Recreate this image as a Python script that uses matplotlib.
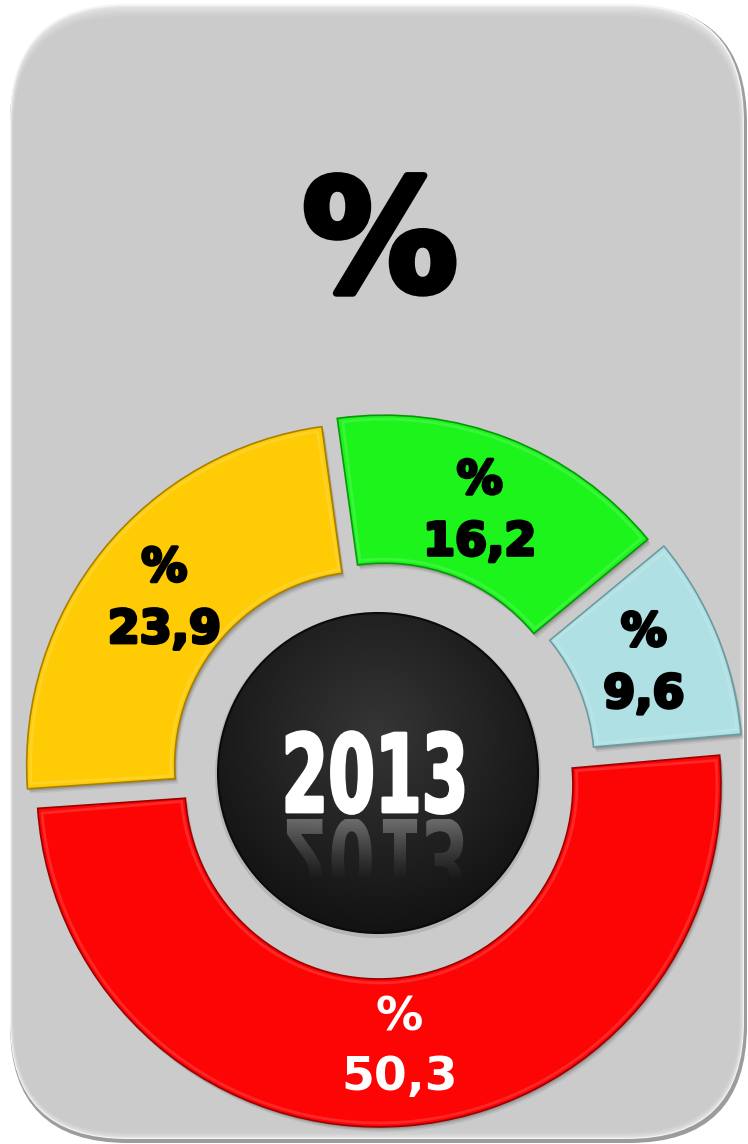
import numpy as np
import matplotlib
matplotlib.use("Agg")
import matplotlib.pyplot as plt
import matplotlib.patches as mp
import matplotlib.patheffects as pe
from matplotlib.colors import to_rgb
from matplotlib.font_manager import FontProperties
from matplotlib.textpath import TextPath
from matplotlib.transforms import Affine2D

W, H = 748, 1144

# shares in %, clockwise from the bottom wedge
shares = [50.3, 23.9, 16.2, 9.6]
colors = ["#fd0505", "#fecb04", "#1cf41c", "#aee0e4"]
edge_cols = ["#9a0000", "#a87f00", "#0a960a", "#6b9ba0"]
label_cols = ["white", "black", "black", "black"]
year = "2013"
title = "%"

CX, CY = 378, 371          # ring centre (pixels, y up)
R_OUT, RING_W = 342, 148
R_DISC = 160
explode = [12, 12, 17, 24]

fig = plt.figure(figsize=(W / 100, H / 100), dpi=100)
ax = fig.add_axes([0, 0, 1, 1])


def mix(c1, c2, t):
    a, b = np.array(to_rgb(c1)), np.array(to_rgb(c2))
    return tuple(a + (b - a) * t)


class Squeeze(pe.AbstractPathEffect):
    """Narrow glyphs horizontally around a data x position, with optional outline."""

    def __init__(self, sx, x_data, stroke=0.0):
        super().__init__()
        self.sx, self.x_data, self.stroke = sx, x_data, stroke

    def draw_path(self, renderer, gc, tpath, affine, rgbFace=None):
        x0 = ax.transData.transform((self.x_data, 0))[0]
        aff = affine + Affine2D().translate(-x0, 0).scale(self.sx, 1).translate(x0, 0)
        if self.stroke:
            gc0 = renderer.new_gc()
            gc0.copy_properties(gc)
            gc0.set_linewidth(self.stroke)
            gc0.set_foreground(rgbFace)
            gc0.set_joinstyle("round")
            renderer.draw_path(gc0, tpath, aff, rgbFace)
            gc0.restore()
        else:
            renderer.draw_path(gc, tpath, aff, rgbFace)


def heavy(lw, color):
    return [pe.Stroke(linewidth=lw, foreground=color, joinstyle="round"), pe.Normal()]


# ── card ────────────────────────────────────────────────────────────
def rbox(x0, y0, x1, y1, r, color, z=0, alpha=1.0):
    ax.add_patch(mp.FancyBboxPatch(
        (x0, y0), x1 - x0, y1 - y0,
        boxstyle=f"round,pad=0,rounding_size={r}",
        fc=color, ec="none", zorder=z, alpha=alpha))


rbox(10, 1, 747, 1139, 118, "#9c9c9c")
rbox(10, 5, 744, 1140, 117, "#f4f4f4")
n = 12
for i in range(n):
    t = i / (n - 1)
    rbox(11 + 3 * t, 6 + 6 * t, 743 - 4 * t, 1138 - 11 * t, 116 - 5 * t,
         mix("#e6e6e6", "#cbcbcb", t ** 0.7))

# ── ring ────────────────────────────────────────────────────────────
wedges, _, autotexts = ax.pie(
    shares, radius=R_OUT, center=(CX, CY), startangle=5, counterclock=False,
    colors=colors, explode=explode, pctdistance=0.77,
    autopct=lambda p: "%\n" + f"{p:.1f}".replace(".", ","),
    wedgeprops=dict(width=RING_W, linewidth=0, zorder=2))

for w, ec in zip(wedges, edge_cols):
    (x, y), r, t1, t2, wd = w.center, w.r, w.theta1, w.theta2, w.width
    # soft drop shadow
    for k, a in ((5, 0.06), (3.5, 0.09), (2, 0.12)):
        ax.add_patch(mp.Wedge((x + k * 0.6, y - k), r, t1, t2, width=wd,
                              fc="black", ec="none", alpha=a, zorder=1.5))
    # bevel: dark rim and a light inner line
    ax.add_patch(mp.Wedge((x, y), r, t1, t2, width=wd, fc="none",
                          ec=ec, lw=1.2, zorder=3))
    inset = 4
    da = np.degrees(inset / (r - wd / 2))
    ax.add_patch(mp.Wedge((x, y), r - inset, t1 + da, t2 - da, width=wd - 2 * inset,
                          fc="none", ec=mix(w.get_facecolor()[:3], "white", 0.4),
                          lw=2.0, alpha=0.35, zorder=3))

for txt, c in zip(autotexts, label_cols):
    txt.set_color(c)
    txt.set_zorder(6)
    if c == "white":
        txt.set_fontproperties(FontProperties(family="DejaVu Sans", weight="bold", size=34))
        txt.set_linespacing(1.4)
    else:
        txt.set_fontproperties(FontProperties(family="DejaVu Sans", weight="bold", size=33))
        txt.set_linespacing(1.48)
        txt.set_path_effects(heavy(2.4, c))

# ── centre disc ─────────────────────────────────────────────────────
ax.add_patch(mp.Circle((CX, CY - 2), R_DISC + 3, fc="#a8a8a8", ec="none", alpha=0.6, zorder=3))
yy, xx = np.mgrid[-1:1:400j, -1:1:400j]
d = np.hypot(xx, yy - 0.25)
v = np.clip(0.21 - 0.11 * d, 0.07, 1)
disc = mp.Circle((CX, CY), R_DISC, fc="none", ec="#0a0a0a", lw=1.5, zorder=4.1)
ax.add_patch(disc)
im = ax.imshow(np.dstack([v, v, v]), origin="lower", interpolation="bilinear",
               extent=(CX - R_DISC, CX + R_DISC, CY - R_DISC, CY + R_DISC), zorder=4)
im.set_clip_path(disc)

# year with a fading mirror image below it
YX, YB, YSIZE, SQ = 375, 332, 78, 0.62
ax.text(YX, YB, year, ha="center", va="baseline", fontsize=YSIZE, fontweight="bold",
        family="DejaVu Sans", color="white", zorder=6,
        path_effects=[Squeeze(SQ, YX, stroke=2.0)])

tp = TextPath((0, 0), year, size=YSIZE * 100 / 72,
              prop=FontProperties(family="DejaVu Sans", weight="bold"))
ext = tp.get_extents()
mirror = (Affine2D().translate(-(ext.x0 + ext.x1) / 2, 0)
          .scale(SQ, -1).translate(YX, YB - 7))
refl = mp.PathPatch(mirror.transform_path(tp), transform=ax.transData)
ramp = np.linspace(0, 1, 100)
fade = np.zeros((100, 1, 4))
fade[..., :3] = 1.0
fade[:, 0, 3] = 0.33 * np.clip((ramp - 0.3) / 0.7, 0, 1) ** 1.3
fim = ax.imshow(fade, origin="lower", interpolation="bilinear",
                extent=(YX - 130, YX + 130, YB - 7 - 90, YB - 7), zorder=5)
fim.set_clip_path(refl)

# ── title ───────────────────────────────────────────────────────────
ax.text(380, 896, title, ha="center", va="center", fontsize=112,
        fontweight="bold", family="DejaVu Sans", color="black", zorder=6,
        path_effects=heavy(5, "black"))

ax.set_xlim(0, W)
ax.set_ylim(0, H)
ax.set_aspect("auto")
ax.axis("off")

fig.savefig("out.png", dpi=100, facecolor="white")
